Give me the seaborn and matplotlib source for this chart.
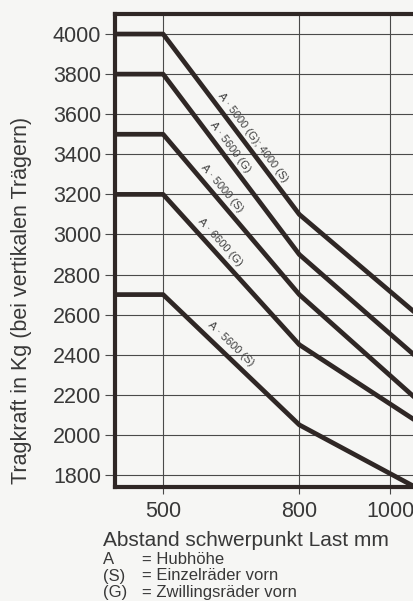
import numpy as np
import pandas as pd
import seaborn as sns
import matplotlib.pyplot as plt

# Abstand Schwerpunkt Last (mm) und Tragkraft (kg) je Kurve
abstand = [390, 500, 800, 1055]
a5000g_4000s = [4000, 4000, 3100, 2610]
a5600g = [3800, 3800, 2900, 2395]
a5000s = [3500, 3500, 2700, 2185]
a6600g = [3200, 3200, 2450, 2073]
a5600s = [2700, 2700, 2050, 1740]

kurven = [a5000g_4000s, a5600g, a5000s, a6600g, a5600s]
kurven_namen = ['A · 5000 (G); 4000 (S)', 'A · 5600 (G)', 'A · 5000 (S)',
                'A · 6600 (G)', 'A · 5600 (S)']
label_x = [698, 648, 630, 626, 650]

x_ticks = [500, 800, 1000]
y_ticks = [1800, 2000, 2200, 2400, 2600, 2800, 3000, 3200, 3400, 3600, 3800, 4000]

legende_keys = ['A', '(S)', '(G)']
legende_texte = ['= Hubhöhe', '= Einzelräder vorn', '= Zwillingsräder vorn']

sns.set_style('white')
plt.rcParams['font.family'] = ['Liberation Sans', 'DejaVu Sans']

bg = '#f6f6f4'
ink = '#2f2725'
txt = '#383838'

fig = plt.figure(figsize=(4.14, 6.01), dpi=100, facecolor=bg)
ax = fig.add_axes([115 / 414, 1 - 487 / 601, 320.5 / 414, 473 / 601])
ax.set_facecolor(bg)

for werte in kurven:
    sns.lineplot(x=abstand, y=werte, ax=ax, color=ink, linewidth=3.4,
                 solid_joinstyle='round', zorder=3)

ax.set_xlim(394, 1100)
ax.set_ylim(1740, 4100)
ax.set_xticks(x_ticks)
ax.set_yticks(y_ticks)
ax.set_xticklabels([str(v) for v in x_ticks])
ax.set_yticklabels([str(v) for v in y_ticks])
ax.grid(True, color='#4a4a4a', linewidth=0.8)
ax.set_axisbelow(True)
ax.tick_params(axis='y', length=7, width=0.8, color='#4a4a4a', labelsize=15.5,
               labelcolor=txt, pad=3, left=True)
ax.tick_params(axis='x', length=5, width=0.8, color='#4a4a4a', labelsize=15.5,
               labelcolor=txt, pad=5, bottom=True)
for sp in ax.spines.values():
    sp.set_linewidth(3)
    sp.set_color(ink)
    sp.set_visible(True)

# Kurvenbeschriftungen entlang der fallenden Strecke
for werte, name, lx in zip(kurven, kurven_namen, label_x):
    p1 = ax.transData.transform((500, werte[1]))
    p2 = ax.transData.transform((800, werte[2]))
    winkel = np.degrees(np.arctan2(p2[1] - p1[1], p2[0] - p1[0]))
    ly = np.interp(lx, abstand, werte) + 78
    ax.text(lx, ly, name, rotation=winkel, rotation_mode='anchor', ha='center',
            va='center', fontsize=8, color='#404040', zorder=4)

ax.set_xlabel('')
ax.set_ylabel('')
fig.text(22 / 414, 1 - 300 / 601, 'Tragkraft in Kg (bei vertikalen Trägern)',
         rotation=90, ha='center', va='center', fontsize=15.5, color=txt)
fig.text(103 / 414, 1 - 540 / 601, 'Abstand schwerpunkt Last mm',
         ha='left', va='center', fontsize=15, color=txt)
for i, (k, t) in enumerate(zip(legende_keys, legende_texte)):
    yy = 1 - (559 + 17 * i) / 601
    fig.text(103 / 414, yy, k, ha='left', va='center', fontsize=12, color=txt)
    fig.text(142 / 414, yy, t, ha='left', va='center', fontsize=12, color=txt)

fig.savefig('out.png', dpi=100, facecolor=bg)
